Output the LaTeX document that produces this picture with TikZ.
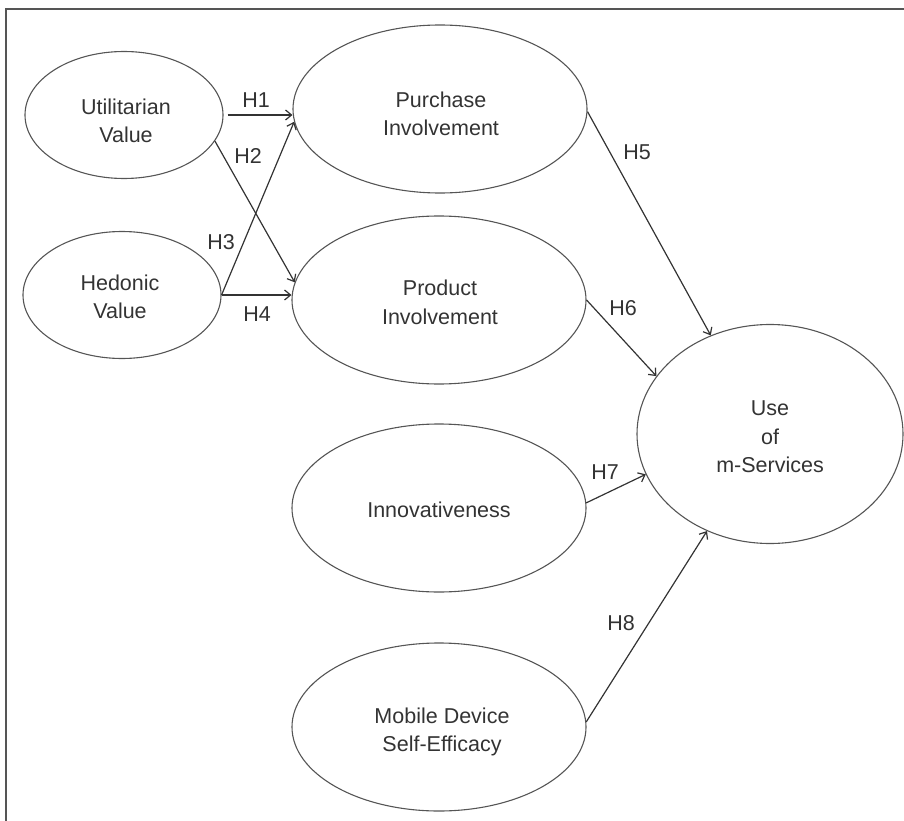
\documentclass[tikz,border=0pt]{standalone}
\usepackage{fontspec}
\setmainfont{Liberation Sans}
\usetikzlibrary{shapes.geometric,arrows.meta}
\definecolor{ink}{HTML}{333333}
\definecolor{edgecol}{HTML}{555555}
\begin{document}
\begin{tikzpicture}[x=1pt,y=-1pt,
  var/.style={ellipse, draw=edgecol, line width=1.1pt, inner sep=0pt},
  big/.style={var, minimum width=294pt, minimum height=168pt},
  small/.style={var, minimum width=198pt, minimum height=127pt},
  txt/.style={inner sep=0pt, text=ink, align=center, font=\fontsize{21.5}{28.5}\selectfont},
  link/.style={draw=ink, line width=1.2pt, -{Straight Barb[length=6pt,width=10pt]}},
  hlab/.style={text=ink, font=\fontsize{21.5}{24}\selectfont, inner sep=0pt}]
\useasboundingbox (0,0) rectangle (904,821);
\draw[line width=1.5pt, draw=edgecol] (6,821) -- (6,9) -- (904,9);

\node[small] (ut) at (124,115) {};
\node[small] (he) at (122,295) {};
\node[big] (pu) at (440,109) {};
\node[big] (pr) at (439,300) {};
\node[big] (in) at (439,508) {};
\node[big] (mo) at (439,727) {};
\node[var, minimum width=266pt, minimum height=219pt] (use) at (770,434) {};

\node[txt] (utt) at (126,121) {Utilitarian\\Value};
\node[txt] (het) at (120,297) {Hedonic\\Value};
\node[txt] (put) at (441,114) {Purchase\\Involvement};
\node[txt] (prt) at (440,302.5) {Product\\Involvement};
\node[txt] (int) at (439,510) {Innovativeness};
\node[txt] (mot) at (442,732) {Mobile Device\\Self-Efficacy};
\node[txt] (uset) at (770,437) {Use\\of\\m-Services};

\draw[link, shorten <=4pt] (ut.east) -- (pu.west |- ut.east);
\draw[link] (ut.-16) -- (pr.173.4);
\draw[link] (he.east) -- (pu.185.4);
\draw[link] (he.east) -- (pr.west |- he.east);
\draw[link] (pu.-1.9) -- (use.121.2);
\draw[link] (pr.east) -- (use.153.6);
\draw[link] (in.2.7) -- (use.198.9);
\draw[link] (mo.2) -- (use.237.4);

\node[hlab] (h1) at (256,100) {H1};
\node[hlab] (h2) at (248,156) {H2};
\node[hlab] (h3) at (221,242) {H3};
\node[hlab] (h4) at (257,314) {H4};
\node[hlab] (h5) at (637,152) {H5};
\node[hlab] (h6) at (623,308) {H6};
\node[hlab] (h7) at (605,472) {H7};
\node[hlab] (h8) at (621,623) {H8};
\end{tikzpicture}
\end{document}
